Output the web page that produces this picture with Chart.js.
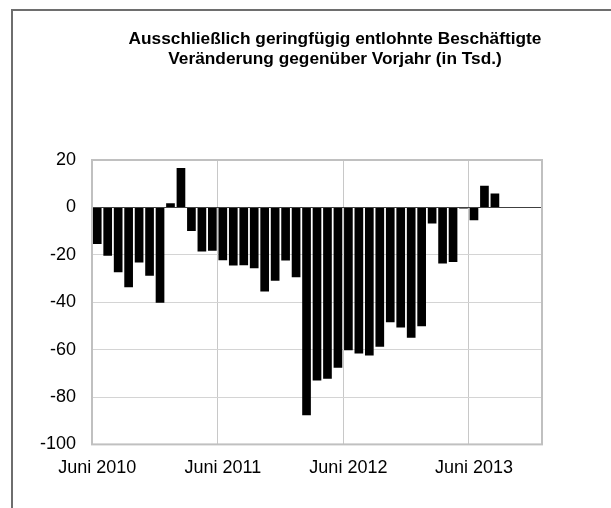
<!DOCTYPE html>
<html>
<head>
<meta charset="utf-8">
<script src="https://cdn.jsdelivr.net/npm/chart.js@4/dist/chart.umd.min.js"></script>
<style>
  html, body { margin: 0; padding: 0; background: #fff; overflow: hidden; width: 611px; height: 508px; }
  #frame { position: absolute; left: 11px; top: 9px; width: 700px; height: 600px;
           border-left: 2px solid #6e6e6e; border-top: 2px solid #6e6e6e; box-sizing: border-box; }
  #wrap { position: absolute; left: 11px; top: 10px; width: 648px; height: 498px; }
</style>
</head>
<body>
<div id="frame"></div>
<div id="wrap"><canvas id="c" width="648" height="498"></canvas></div>
<script>
// Categories: monthly, Juni 2010 .. Dezember 2013
const months = [
  "Juni 2010","Juli 2010","August 2010","September 2010","Oktober 2010","November 2010","Dezember 2010",
  "Januar 2011","Februar 2011","März 2011","April 2011","Mai 2011","Juni 2011","Juli 2011","August 2011",
  "September 2011","Oktober 2011","November 2011","Dezember 2011",
  "Januar 2012","Februar 2012","März 2012","April 2012","Mai 2012","Juni 2012","Juli 2012","August 2012",
  "September 2012","Oktober 2012","November 2012","Dezember 2012",
  "Januar 2013","Februar 2013","März 2013","April 2013","Mai 2013","Juni 2013","Juli 2013","August 2013",
  "September 2013","Oktober 2013","November 2013","Dezember 2013"
];
// Change vs. previous year (thousands)
const changeVsPrevYear = [
  -15.4, -20.4, -27.4, -33.7, -23.3, -28.8, -40.2,
  1.7, 16.6, -10.0, -18.6, -18.3, -22.3, -24.5, -24.4,
  -25.7, -35.5, -30.9, -22.4,
  -29.5, -87.7, -73.0, -72.3, -67.7, -60.3, -61.6, -62.5,
  -58.8, -48.5, -50.7, -55.0,
  -50.2, -6.8, -23.7, -23.0, -0.5, -5.4, 9.1, 5.9,
  null, null, null, null
];
// Labelled x ticks
const xTickLabels = ["Juni 2010", "Juni 2011", "Juni 2012", "Juni 2013"];
const yMin = -100, yMax = 20, yStep = 20;
const titleLines = ["Ausschließlich geringfügig entlohnte Beschäftigte", "Veränderung gegenüber Vorjahr (in Tsd.)"];

const FONT = "'Liberation Sans', Arial, sans-serif";

const plotFrame = {
  id: 'plotFrame',
  afterDraw(chart) {
    const a = chart.chartArea, ctx = chart.ctx;
    ctx.save();
    ctx.strokeStyle = '#c0c0c0';
    ctx.lineWidth = 2;
    ctx.strokeRect(a.left, a.top, a.right - a.left, a.bottom - a.top);
    ctx.restore();
  }
};

new Chart(document.getElementById('c'), {
  type: 'bar',
  data: {
    labels: months,
    datasets: [{
      data: changeVsPrevYear,
      backgroundColor: '#000000',
      borderWidth: 0,
      categoryPercentage: 1.0,
      barPercentage: 0.83
    }]
  },
  options: {
    responsive: false,
    animation: false,
    devicePixelRatio: 1,
    layout: { padding: { left: 0, right: 0, top: 0, bottom: 16 } },
    plugins: {
      legend: { display: false },
      tooltip: { enabled: false },
      title: {
        display: true,
        text: titleLines,
        color: '#000',
        font: { family: FONT, size: 17.3, weight: 'bold', lineHeight: 20 / 17.3 },
        padding: { top: 19.6, bottom: 90.4 }
      }
    },
    scales: {
      x: {
        type: 'category',
        offset: true,
        grid: {
          offset: true,
          drawTicks: false,
          color: (ctx) => (ctx.index !== undefined && ctx.index > 0 && ctx.index % 12 === 0) ? '#c8c8c8' : 'rgba(0,0,0,0)',
          lineWidth: 1
        },
        border: { display: false },
        ticks: {
          autoSkip: false,
          maxRotation: 0,
          minRotation: 0,
          padding: 13,
          color: '#000',
          font: { family: FONT, size: 18 },
          callback: function (val, index) {
            const lab = this.getLabelForValue(val);
            return xTickLabels.includes(lab) ? lab : '';
          }
        }
      },
      y: {
        min: yMin,
        max: yMax,
        afterFit: (scale) => { scale.width = 81; },
        grid: {
          drawTicks: false,
          color: (ctx) => {
            const v = ctx.tick ? ctx.tick.value : null;
            if (v === 0) return '#404040';
            if (v === yMin || v === yMax) return 'rgba(0,0,0,0)';
            return '#d4d4d4';
          },
          lineWidth: 1
        },
        border: { display: false },
        ticks: {
          stepSize: yStep,
          padding: 16,
          color: '#000',
          font: { family: FONT, size: 18 }
        }
      },
      yRight: {
        type: 'linear',
        position: 'right',
        display: true,
        afterFit: (scale) => { scale.width = 117; },
        grid: { display: false, drawTicks: false },
        border: { display: false },
        ticks: { display: false }
      }
    }
  },
  plugins: [plotFrame]
});
</script>
</body>
</html>
